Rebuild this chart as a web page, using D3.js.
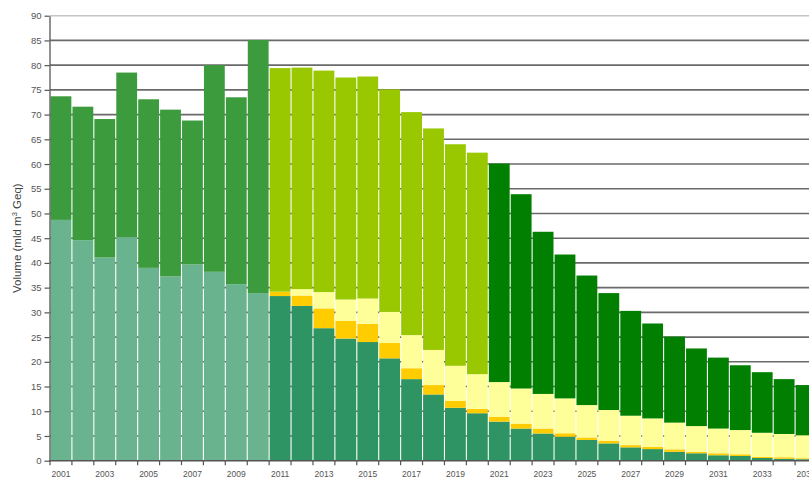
<!DOCTYPE html>
<html>
<head>
<meta charset="utf-8">
<script src="https://cdn.jsdelivr.net/npm/d3@7"></script>
<style>
  html, body { margin: 0; padding: 0; background: #fff; overflow: hidden; }
  svg { display: block; font-family: "Liberation Sans", Arial, sans-serif; }
</style>
</head>
<body>
<svg id="chart" width="809" height="477"></svg>
<script>
// Historical volumes 2001-2010 (mld m³ Geq)
const histYears = [2001, 2002, 2003, 2004, 2005, 2006, 2007, 2008, 2009, 2010];
const histLower = [48.7, 44.6, 41.1, 45.2, 39.0, 37.3, 39.7, 38.2, 35.7, 33.9];
const histUpper = [25.0, 27.0, 28.0, 33.3, 34.1, 33.7, 29.1, 41.8, 37.8, 51.2];

// Projected volumes 2011-2035, stacked from the bottom up
const projYears = [2011, 2012, 2013, 2014, 2015, 2016, 2017, 2018, 2019, 2020,
                   2021, 2022, 2023, 2024, 2025, 2026, 2027, 2028, 2029, 2030,
                   2031, 2032, 2033, 2034, 2035];
const projBase   = [33.3, 31.3, 26.8, 24.7, 24.0, 20.7, 16.5, 13.4, 10.7, 9.6,
                    7.9, 6.5, 5.5, 4.85, 4.2, 3.5, 2.7, 2.35, 1.8, 1.5,
                    1.1, 0.95, 0.55, 0.4, 0.3];
const projOrange = [0.9, 2.1, 4.0, 3.6, 3.7, 3.1, 2.2, 1.9, 1.4, 0.9,
                    1.0, 1.0, 1.0, 0.7, 0.5, 0.55, 0.45, 0.45, 0.5, 0.3,
                    0.4, 0.35, 0.25, 0.3, 0.2];
const projYellow = [0.0, 1.3, 3.3, 4.3, 5.1, 6.3, 6.7, 7.1, 7.1, 7.0,
                    7.0, 7.1, 7.0, 7.05, 6.55, 6.2, 5.95, 5.75, 5.4, 5.2,
                    5.0, 4.9, 4.85, 4.7, 4.65];
const projLime   = [45.2, 44.8, 44.8, 44.9, 44.9, 45.0, 45.1, 44.8, 44.8, 44.8,
                    0, 0, 0, 0, 0, 0, 0, 0, 0, 0,
                    0, 0, 0, 0, 0];
const projDark   = [0, 0, 0, 0, 0, 0, 0, 0, 0, 0,
                    44.2, 39.3, 32.8, 29.1, 26.2, 23.65, 21.2, 19.2, 17.4, 15.7,
                    14.35, 13.1, 12.25, 11.1, 10.15];

const years = histYears.concat(projYears);
const yTicks = [0, 5, 10, 15, 20, 25, 30, 35, 40, 45, 50, 55, 60, 65, 70, 75, 80, 85, 90];
const xLabels = [2001, 2003, 2005, 2007, 2009, 2011, 2013, 2015, 2017, 2019,
                 2021, 2023, 2025, 2027, 2029, 2031, 2033, 2035];

const keys = ["histLower", "histUpper", "base", "orange", "yellow", "lime", "dark"];
const colors = {
  histLower: "#69b48e",
  histUpper: "#3c9b3c",
  base: "#2f9463",
  orange: "#ffcc00",
  yellow: "#ffff99",
  lime: "#99c800",
  dark: "#007f00"
};

// One row per year, zero where a layer does not apply
const table = years.map(yr => {
  const h = histYears.indexOf(yr), p = projYears.indexOf(yr);
  return {
    year: yr,
    histLower: h >= 0 ? histLower[h] : 0,
    histUpper: h >= 0 ? histUpper[h] : 0,
    base: p >= 0 ? projBase[p] : 0,
    orange: p >= 0 ? projOrange[p] : 0,
    yellow: p >= 0 ? projYellow[p] : 0,
    lime: p >= 0 ? projLime[p] : 0,
    dark: p >= 0 ? projDark[p] : 0
  };
});

const svg = d3.select("#chart");
const plotLeft = 50, plotRight = 817, plotTop = 15.7, plotBottom = 460.7;

const x = d3.scaleBand(years, [plotLeft, plotRight]).paddingInner(0.05).paddingOuter(0.025);
const y = d3.scaleLinear([0, 90], [plotBottom, plotTop]);
const gap = (x.step() - x.bandwidth()) / 2;

// Horizontal grid lines behind the bars
svg.append("g")
  .selectAll("line")
  .data(yTicks.filter(v => v > 0))
  .join("line")
  .attr("x1", plotLeft).attr("x2", plotRight)
  .attr("y1", d => y(d)).attr("y2", d => y(d))
  .attr("stroke", d => d === 90 ? "#c4c4c4" : "#6a6a6a")
  .attr("stroke-width", 1.6);

// Stacked bars
const series = d3.stack().keys(keys)(table);
svg.append("g")
  .selectAll("g")
  .data(series)
  .join("g")
  .attr("fill", s => colors[s.key])
  .selectAll("rect")
  .data(s => s.filter(d => d[1] - d[0] > 0))
  .join("rect")
  .attr("x", d => x(d.data.year))
  .attr("width", x.bandwidth())
  .attr("y", d => y(d[1]))
  .attr("height", d => y(d[0]) - y(d[1]));

// Left axis
const yAxis = svg.append("g")
  .attr("transform", `translate(${plotLeft - 0.5},0)`)
  .call(d3.axisLeft(y).tickValues(yTicks).tickSize(5).tickSizeOuter(0).tickPadding(3));
yAxis.select(".domain").attr("stroke", "#555").attr("stroke-width", 1.3);
yAxis.selectAll(".tick line").attr("stroke", "#555").attr("stroke-width", 1.2);
yAxis.selectAll(".tick text")
  .attr("fill", "#555")
  .style("font-size", "9.5px")
  .style("font-family", "'Liberation Sans', Arial, sans-serif");

// Bottom axis line with ticks at the category boundaries
svg.append("line")
  .attr("x1", plotLeft - 1).attr("x2", plotRight)
  .attr("y1", plotBottom).attr("y2", plotBottom)
  .attr("stroke", "#555").attr("stroke-width", 1.4);
svg.append("g")
  .selectAll("line")
  .data(years)
  .join("line")
  .attr("x1", d => x(d) - gap).attr("x2", d => x(d) - gap)
  .attr("y1", plotBottom).attr("y2", plotBottom + 4.5)
  .attr("stroke", "#555").attr("stroke-width", 1.2);

svg.append("g")
  .selectAll("text")
  .data(xLabels)
  .join("text")
  .attr("x", d => x(d) + x.bandwidth() / 2)
  .attr("y", 476.5)
  .attr("text-anchor", "middle")
  .attr("fill", "#555")
  .style("font-size", "8.5px")
  .text(d => d);

// Axis title
const title = svg.append("text")
  .attr("transform", `translate(21,${(plotTop + plotBottom) / 2}) rotate(-90)`)
  .attr("text-anchor", "middle")
  .attr("fill", "#444")
  .style("font-size", "11.5px");
title.append("tspan").text("Volume (mld m");
title.append("tspan").attr("baseline-shift", "super").style("font-size", "7.5px").text("3");
title.append("tspan").text(" Geq)");
</script>
</body>
</html>
